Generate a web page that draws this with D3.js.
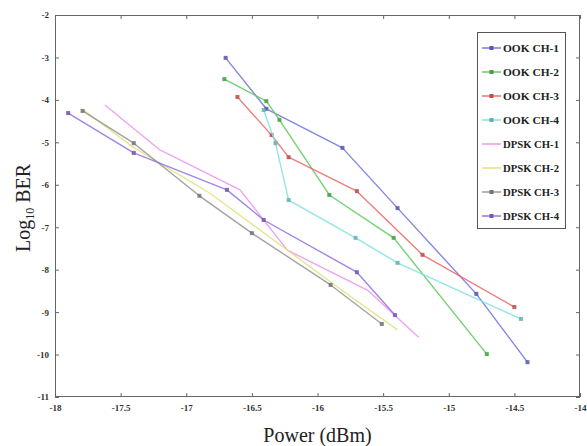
<!DOCTYPE html>
<html><head><meta charset="utf-8">
<script src="https://cdn.jsdelivr.net/npm/d3@7"></script>
<style>
html,body{margin:0;padding:0;background:#fff;}
svg{display:block;}
</style></head>
<body>
<svg id="chart" width="587" height="446"></svg>
<script>
// ---- data ----
const xTicks = [-18, -17.5, -17, -16.5, -16, -15.5, -15, -14.5, -14];
const yTicks = [-2, -3, -4, -5, -6, -7, -8, -9, -10, -11];
const seriesNames = ["OOK CH-1","OOK CH-2","OOK CH-3","OOK CH-4","DPSK CH-1","DPSK CH-2","DPSK CH-3","DPSK CH-4"];
const ookCh1P = [-16.70, -16.39, -15.81, -15.39, -14.79, -14.40];
const ookCh1B = [-3.01, -4.21, -5.13, -6.55, -8.57, -10.18];
const ookCh2P = [-16.71, -16.39, -16.29, -15.91, -15.42, -14.71];
const ookCh2B = [-3.51, -4.03, -4.47, -6.24, -7.25, -9.99];
const ookCh3P = [-16.61, -16.35, -16.22, -15.70, -15.20, -14.50];
const ookCh3B = [-3.93, -4.83, -5.35, -6.15, -7.65, -8.88];
const ookCh4P = [-16.41, -16.32, -16.22, -15.71, -15.39, -14.45];
const ookCh4B = [-4.24, -5.02, -6.36, -7.25, -7.84, -9.16];
const dpskCh1P = [-17.62, -17.20, -16.59, -16.23, -15.62, -15.23];
const dpskCh1B = [-4.12, -5.18, -6.12, -7.54, -8.48, -9.59];
const dpskCh2P = [-17.79, -17.41, -16.82, -16.29, -15.83, -15.39];
const dpskCh2B = [-4.22, -5.10, -6.20, -7.40, -8.45, -9.42];
const dpskCh3P = [-17.79, -17.40, -16.90, -16.50, -15.90, -15.51];
const dpskCh3B = [-4.26, -5.02, -6.26, -7.14, -8.36, -9.28];
const dpskCh4P = [-17.90, -17.40, -16.69, -16.41, -15.70, -15.41];
const dpskCh4B = [-4.31, -5.25, -6.12, -6.83, -8.06, -9.07];

const colors = ["#7070dc","#5cc85c","#ee6464","#7ee2e2","#ee90ee","#e0e07a","#939393","#9070e0"];
const markerOn = [true,true,true,true,false,false,true,true];

const seriesP = [ookCh1P, ookCh2P, ookCh3P, ookCh4P, dpskCh1P, dpskCh2P, dpskCh3P, dpskCh4P];
const seriesB = [ookCh1B, ookCh2B, ookCh3B, ookCh4B, dpskCh1B, dpskCh2B, dpskCh3B, dpskCh4B];

// ---- layout ----
const L = 55, R = 580, T = 15, B = 397;
const svg = d3.select("#chart");
const x = d3.scaleLinear().domain([-18, -14]).range([L, R]);
const y = d3.scaleLinear().domain([-11, -2]).range([B, T]);

const fmt = d => String(d);
const tickFont = "'Liberation Serif', 'DejaVu Serif', serif";

svg.append("rect").attr("x", L).attr("y", T).attr("width", R - L).attr("height", B - T)
  .attr("fill", "#fff").attr("stroke", "none");

function styleAxis(g, showLabels) {
  g.select(".domain").remove();
  g.selectAll(".tick line").attr("stroke", "#666").attr("stroke-width", 1);
  g.selectAll(".tick text").attr("fill", "#333").style("font-family", tickFont)
    .style("font-size", "9px").style("font-weight", "bold");
  if (!showLabels) g.selectAll(".tick text").remove();
}

svg.append("g").attr("transform", `translate(0,${B})`)
  .call(d3.axisBottom(x).tickValues(xTicks).tickFormat(fmt).tickSize(-4).tickPadding(8))
  .call(g => styleAxis(g, true));
svg.append("g").attr("transform", `translate(0,${T})`)
  .call(d3.axisTop(x).tickValues(xTicks).tickSize(-4))
  .call(g => styleAxis(g, false));
svg.append("g").attr("transform", `translate(${L},0)`)
  .call(d3.axisLeft(y).tickValues(yTicks).tickFormat(fmt).tickSize(-4).tickPadding(6))
  .call(g => styleAxis(g, true));
svg.append("g").attr("transform", `translate(${R},0)`)
  .call(d3.axisRight(y).tickValues(yTicks).tickSize(-4))
  .call(g => styleAxis(g, false));

svg.append("rect").attr("x", L + 0.5).attr("y", T + 0.5).attr("width", R - L - 1).attr("height", B - T - 1)
  .attr("fill", "none").attr("stroke", "#666").attr("stroke-width", 1);

// lines
const line = d3.line().x(d => x(d[0])).y(d => y(d[1]));
seriesNames.forEach((name, i) => {
  const pts = seriesP[i].map((p, j) => [p, seriesB[i][j]]);
  svg.append("path").datum(pts).attr("d", line)
    .attr("fill", "none").attr("stroke", colors[i]).attr("stroke-width", 1.4)
    .attr("stroke-linejoin", "round").attr("opacity", 0.85);
  if (markerOn[i]) {
    svg.append("g").selectAll("rect").data(pts).join("rect")
      .attr("x", d => x(d[0]) - 2).attr("y", d => y(d[1]) - 2)
      .attr("width", 4).attr("height", 4)
      .attr("fill", d3.color(colors[i]).darker(0.7)).attr("opacity", 0.85);
  }
});

// legend
const lg = svg.append("g");
const lgX = 477, lgY = 32, lgW = 88, lgH = 196;
lg.append("rect").attr("x", lgX + 0.5).attr("y", lgY + 0.5).attr("width", lgW).attr("height", lgH)
  .attr("fill", "#fff").attr("stroke", "#555").attr("stroke-width", 1);
seriesNames.forEach((name, i) => {
  const yy = lgY + 16 + i * 24;
  lg.append("line").attr("x1", lgX + 5).attr("x2", lgX + 24).attr("y1", yy).attr("y2", yy)
    .attr("stroke", colors[i]).attr("stroke-width", 1.4);
  if (markerOn[i]) {
    lg.append("rect").attr("x", lgX + 12.5).attr("y", yy - 2).attr("width", 4).attr("height", 4)
      .attr("fill", d3.color(colors[i]).darker(0.7));
  }
  lg.append("text").attr("x", lgX + 26).attr("y", yy + 3.5).text(name)
    .style("font-family", tickFont).style("font-size", "10px").style("font-weight", "bold")
    .attr("fill", "#222").attr("textLength", 56).attr("lengthAdjust", "spacingAndGlyphs");
});

// axis titles
svg.append("text").attr("x", (L + R) / 2).attr("y", 442).attr("text-anchor", "middle")
  .style("font-family", tickFont).style("font-size", "20px").attr("fill", "#222")
  .text("Power (dBm)");
const yl = svg.append("text").attr("transform", `translate(30,${(T + B) / 2 + 2}) rotate(-90)`)
  .attr("text-anchor", "middle").style("font-family", tickFont).style("font-size", "20px")
  .attr("fill", "#222");
yl.append("tspan").text("Log");
yl.append("tspan").attr("dy", 4).style("font-size", "12px").text("10");
yl.append("tspan").attr("dy", -4).text(" BER");
</script>
</body></html>
